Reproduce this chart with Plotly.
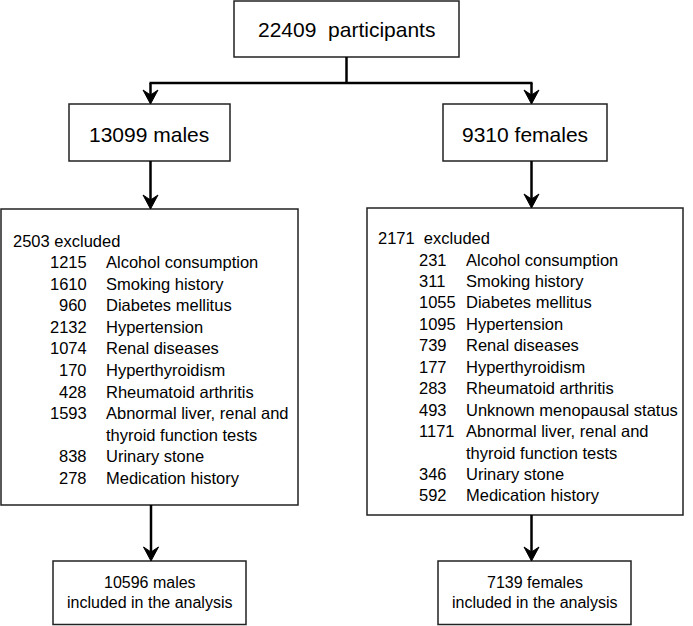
import plotly.graph_objects as go

# ---------------- data ----------------
total_participants = 22409
male_total = 13099
female_total = 9310
male_excluded = 2503
female_excluded = 2171
male_included = 10596
female_included = 7139

male_counts = [1215, 1610, 960, 2132, 1074, 170, 428, 1593, 838, 278]
male_reasons = ["Alcohol consumption", "Smoking history", "Diabetes mellitus",
                "Hypertension", "Renal diseases", "Hyperthyroidism",
                "Rheumatoid arthritis",
                "Abnormal liver, renal and\nthyroid function tests",
                "Urinary stone", "Medication history"]

female_counts = [231, 311, 1055, 1095, 739, 177, 283, 493, 1171, 346, 592]
female_reasons = ["Alcohol consumption", "Smoking history", "Diabetes mellitus",
                  "Hypertension", "Renal diseases", "Hyperthyroidism",
                  "Rheumatoid arthritis", "Unknown menopausal status",
                  "Abnormal liver, renal and\nthyroid function tests",
                  "Urinary stone", "Medication history"]

# ---------------- layout helpers ----------------
W, H = 693, 626
FONT = "Arial, 'Liberation Sans', sans-serif"
BOX_LINE = dict(color="#222222", width=1.5)
CONN = dict(color="#000000", width=2.5)

shapes = []
annotations = []


def box(x0, y0, x1, y1):
    shapes.append(dict(type="rect", x0=x0, y0=y0, x1=x1, y1=y1,
                       xref="x", yref="y", line=BOX_LINE, fillcolor="white",
                       layer="below"))


def line(x0, y0, x1, y1):
    shapes.append(dict(type="line", x0=x0, y0=y0, x1=x1, y1=y1,
                       xref="x", yref="y", line=CONN, layer="above"))


def arrowhead(x, y, w=7.5, l=14, notch=9):
    path = (f"M {x},{y} L {x - w},{y - l} L {x},{y - notch} "
            f"L {x + w},{y - l} Z")
    shapes.append(dict(type="path", path=path, xref="x", yref="y",
                       fillcolor="black", line=dict(color="black", width=1),
                       layer="above"))


def arrow(x, y0, y1):
    line(x, y0, x, y1 - 6)
    arrowhead(x, y1)


def text(x, y, s, size, anchor="center"):
    annotations.append(dict(x=x, y=y, xref="x", yref="y", text=s,
                            showarrow=False, xanchor=anchor, yanchor="middle",
                            font=dict(family=FONT, size=size, color="black")))


NB = "\u00a0"

# ---------------- top box ----------------
box(234, 1, 459, 57)
text(346.5, 29, f"{total_participants}{NB}{NB}participants", 21)

# connector from top box to the two group boxes
xm, xf = 150.5, 531.5
line(346.5, 57, 346.5, 83)
line(xm - 1, 83, xf + 1, 83)
arrow(xm, 83, 104)
arrow(xf, 83, 104)

# ---------------- group boxes ----------------
box(69, 104, 230, 161)
text(149, 134, f"{male_total} males", 21)
box(443, 104, 607, 161)
text(525, 134, f"{female_total} females", 21)

arrow(xm, 161, 209)
arrow(xf, 161, 208)

# ---------------- male exclusion box ----------------
box(1, 209, 298, 505)
text(11, 241, f"{male_excluded} excluded", 16.5, "left")
row_y0, step = 262, 21.6
row = 0
for n, r in zip(male_counts, male_reasons):
    lines = r.split("\n")
    text(89, row_y0 + row * step, str(n), 16.5, "right")
    for ln in lines:
        text(104, row_y0 + row * step, ln, 16.5, "left")
        row += 1

# ---------------- female exclusion box ----------------
box(367, 208, 683, 515)
text(376, 238, f"{female_excluded}{NB}{NB}excluded", 16.5, "left")
row_y0, step = 259.5, 21.45
row = 0
for n, r in zip(female_counts, female_reasons):
    lines = r.split("\n")
    text(417, row_y0 + row * step, str(n), 16.5, "left")
    for ln in lines:
        text(464, row_y0 + row * step, ln, 16.5, "left")
        row += 1

# ---------------- bottom boxes ----------------
arrow(151, 505, 561)
arrow(xf, 515, 561)

box(53, 561, 246, 624.5)
text(149.5, 582, f"{male_included} males", 16)
text(149.5, 602, "included in the analysis", 16)

box(438, 561, 631, 624.5)
text(534.5, 582, f"{female_included} females", 16)
text(534.5, 602, "included in the analysis", 16)

fig = go.Figure()
fig.update_layout(
    width=W, height=H,
    margin=dict(l=0, r=0, t=0, b=0),
    paper_bgcolor="white", plot_bgcolor="white",
    xaxis=dict(range=[0, W], visible=False, fixedrange=True),
    yaxis=dict(range=[H, 0], visible=False, fixedrange=True),
    shapes=shapes, annotations=annotations, showlegend=False,
)
fig.write_html(
    "out.html",
    config={"displayModeBar": False},
    post_script="document.body.style.margin='0';document.body.style.padding='0';"
                "document.documentElement.style.overflow='hidden';",
)
